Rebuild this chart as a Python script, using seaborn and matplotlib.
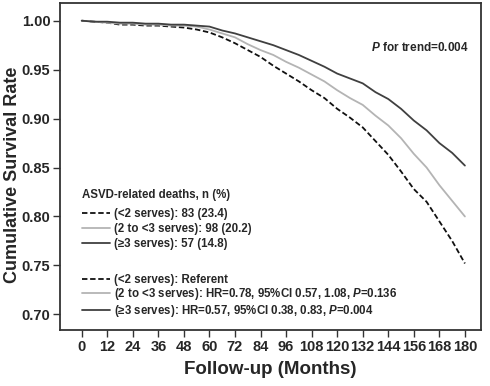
import pandas as pd
import seaborn as sns
import matplotlib.pyplot as plt
from matplotlib.lines import Line2D

# survival curves, every 6 months
months = list(range(0, 181, 6))
surv_lt2 = [1.000, 0.999, 0.998, 0.996, 0.996, 0.995, 0.995, 0.994, 0.993, 0.991,
            0.988, 0.983, 0.977, 0.970, 0.963, 0.954, 0.946, 0.938, 0.929, 0.921,
            0.910, 0.901, 0.891, 0.877, 0.863, 0.846, 0.828, 0.815, 0.795, 0.775, 0.752]
surv_2to3 = [1.000, 0.999, 0.998, 0.997, 0.997, 0.996, 0.996, 0.995, 0.995, 0.994,
             0.991, 0.987, 0.983, 0.976, 0.970, 0.965, 0.958, 0.952, 0.945, 0.938,
             0.929, 0.921, 0.914, 0.903, 0.893, 0.880, 0.864, 0.850, 0.832, 0.816, 0.800]
surv_ge3 = [1.000, 0.999, 0.999, 0.998, 0.998, 0.997, 0.997, 0.996, 0.996, 0.995,
            0.994, 0.990, 0.987, 0.983, 0.979, 0.975, 0.970, 0.965, 0.959, 0.953,
            0.946, 0.941, 0.936, 0.927, 0.920, 0.910, 0.898, 0.888, 0.875, 0.865, 0.852]

groups = ["(<2 serves)", "(2 to <3 serves)", "(\u22653 serves)"]
deaths = ["83 (23.4)", "98 (20.2)", "57 (14.8)"]
hr_text = ["Referent",
           "HR=0.78, 95%CI 0.57, 1.08, $P$=0.136",
           "HR=0.57, 95%CI 0.38, 0.83, $P$=0.004"]
colors = ["#111111", "#b4b4b4", "#404040"]
dash_styles = [(3, 1.5), "", ""]

df = pd.DataFrame({
    "month": months * 3,
    "surv": surv_lt2 + surv_2to3 + surv_ge3,
    "group": [g for g in groups for _ in months],
})

sns.set_style("ticks")
plt.rcParams["font.family"] = ["Liberation Sans", "DejaVu Sans"]
plt.rcParams["font.weight"] = "bold"
plt.rcParams["mathtext.fontset"] = "custom"
plt.rcParams["mathtext.it"] = "Liberation Sans:italic:bold"
plt.rcParams["mathtext.rm"] = "Liberation Sans:bold"

fig = plt.figure(figsize=(4.9, 3.86), dpi=100)
ax = fig.add_axes([0.1224, 0.145, 0.859, 0.847])

sns.lineplot(data=df, x="month", y="surv", hue="group", style="group",
             palette=dict(zip(groups, colors)), dashes=dict(zip(groups, dash_styles)),
             linewidth=1.3, legend=False, ax=ax)

ax.set_xlim(-10.2, 187.5)
ax.set_ylim(0.684, 1.018)
ax.set_xticks(range(0, 181, 12))
ax.set_yticks([0.70, 0.75, 0.80, 0.85, 0.90, 0.95, 1.00])
ax.set_yticklabels([f"{v:.2f}" for v in ax.get_yticks()])
ax.tick_params(length=5, width=1, color="#333333", pad=2, labelsize=10.5)
for lab in ax.get_xticklabels() + ax.get_yticklabels():
    lab.set_fontweight("bold")
for sp in ax.spines.values():
    sp.set_visible(True)
    sp.set_linewidth(1.3)
    sp.set_color("#333333")

ax.set_xlabel("Follow-up (Months)", fontsize=13.5, fontweight="bold", labelpad=5)
ax.set_ylabel("Cumulative Survival Rate", fontsize=13, fontweight="bold")
ax.yaxis.set_label_coords(-0.093, 0.474)

handles = [Line2D([], [], color=c, lw=1.3, dashes=d if d else (None, None))
           for c, d in zip(colors, dash_styles)]
prop = {"weight": "bold", "size": 8.3}

ax.text(0.0515, 0.413, "ASVD-related deaths, n (%)", transform=ax.transAxes,
        ha="left", va="center", fontsize=8.3, fontweight="bold")
leg1 = ax.legend(handles, [f"{g}: {d}" for g, d in zip(groups, deaths)],
                 prop=prop, loc="upper left", bbox_to_anchor=(0.052, 0.373),
                 frameon=False, borderpad=0, borderaxespad=0, handlelength=2.4,
                 handletextpad=0.35, labelspacing=0.27)
ax.add_artist(leg1)
ax.legend(handles, [f"{g}: {h}" for g, h in zip(groups, hr_text)],
          prop=prop, loc="upper left", bbox_to_anchor=(0.052, 0.171),
          frameon=False, borderpad=0, borderaxespad=0, handlelength=2.4,
          handletextpad=0.35, labelspacing=0.03)

ax.text(0.97, 0.865, "$P$ for trend=0.004", transform=ax.transAxes,
        ha="right", va="center", fontsize=8.5, fontweight="bold")

fig.savefig("out.png", dpi=100)
